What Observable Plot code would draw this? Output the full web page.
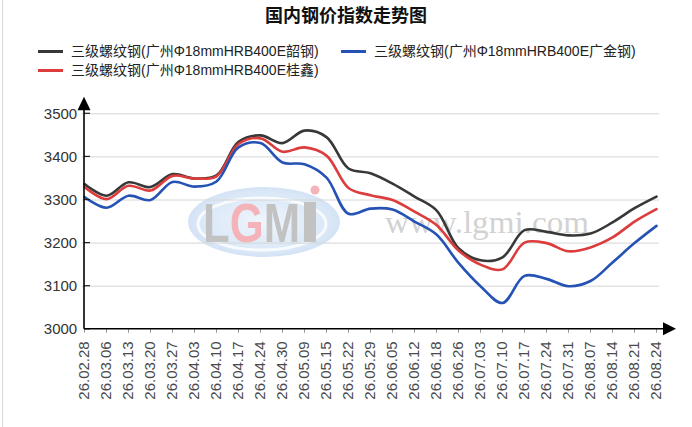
<!DOCTYPE html>
<html><head><meta charset="utf-8">
<script src="https://cdn.jsdelivr.net/npm/d3@7"></script>
<script src="https://cdn.jsdelivr.net/npm/@observablehq/plot@0.6"></script>
<style>
body{margin:0;background:#fff;}
#wrap{position:relative;width:692px;height:427px;overflow:hidden;background:#fff;font-family:"Liberation Sans","Noto Sans CJK SC",sans-serif;}
#border{position:absolute;left:2px;top:0;width:1px;height:427px;background:#d8d8d8;}
#title{position:absolute;left:0;width:692px;top:4px;line-height:20px;text-align:center;font-family:"Noto Sans CJK SC",sans-serif;font-weight:bold;font-size:18px;color:#111;}
.leg{position:absolute;height:18px;line-height:18px;font-size:14px;color:#222;white-space:nowrap;font-family:"Liberation Sans","Noto Sans CJK SC",sans-serif;}
.leg .sw{position:absolute;left:0;top:8px;width:25px;height:2.5px;}
.leg .tx{position:absolute;left:33px;top:0;}
#wm{position:absolute;left:0;top:0;z-index:0;}
#chart{position:absolute;left:0;top:0;z-index:1;}
</style></head>
<body>
<div id="wrap">
  <div id="border"></div>
  <svg id="wm" width="692" height="427">
    <defs>
      <radialGradient id="lg" cx="0.5" cy="0.5" r="0.6">
        <stop offset="0" stop-color="#edf4fc"/>
        <stop offset="0.7" stop-color="#d6e5f6"/>
        <stop offset="1" stop-color="#c6daf1"/>
      </radialGradient>
      <linearGradient id="lt" gradientUnits="userSpaceOnUse" x1="203" y1="0" x2="300" y2="0">
        <stop offset="0" stop-color="#c2c2c2"/>
        <stop offset="0.28" stop-color="#c2c2c2"/>
        <stop offset="0.28" stop-color="#f3b3b9"/>
        <stop offset="0.62" stop-color="#f3b3b9"/>
        <stop offset="0.62" stop-color="#c2c2c2"/>
        <stop offset="1" stop-color="#c2c2c2"/>
      </linearGradient>
    </defs>
    <ellipse cx="264" cy="222" rx="76" ry="35" fill="url(#lg)" opacity="0.9"/>
    <ellipse cx="262" cy="224" rx="64" ry="26" fill="none" stroke="#ffffff" stroke-width="3" opacity="0.8"/>
    <text x="203" y="242" font-family="Liberation Sans" font-weight="bold" font-size="56" fill="url(#lt)" textLength="97" lengthAdjust="spacingAndGlyphs">LGM</text>
    <rect x="304" y="202" width="12" height="40" fill="#c2c2c2"/>
    <circle cx="315" cy="190" r="4.5" fill="#f3b3b9"/>
    <text x="385" y="233" font-family="Liberation Serif" font-size="32" fill="#d2d2d2" textLength="204" lengthAdjust="spacingAndGlyphs">www.lgmi.com</text>
  </svg>
  <div id="chart"></div>
  <div id="title">国内钢价指数走势图</div>
  <div id="legend"></div>
</div>
<script>
const dates = ["26.02.28","26.03.06","26.03.13","26.03.20","26.03.27","26.04.03","26.04.10","26.04.17","26.04.24","26.04.30","26.05.09","26.05.15","26.05.22","26.05.29","26.06.05","26.06.12","26.06.18","26.06.26","26.07.03","26.07.10","26.07.17","26.07.24","26.07.31","26.08.07","26.08.14","26.08.21","26.08.24"];
const shaogang = [3337,3310,3341,3330,3360,3350,3357,3435,3450,3432,3461,3446,3373,3362,3338,3308,3276,3188,3160,3167,3230,3226,3218,3222,3248,3281,3308];
const guixin   = [3330,3302,3333,3322,3356,3350,3355,3430,3443,3412,3422,3403,3328,3311,3300,3273,3242,3183,3150,3139,3201,3200,3181,3190,3213,3250,3279];
const guangjin = [3307,3282,3310,3300,3342,3331,3343,3422,3432,3387,3383,3352,3268,3280,3278,3250,3220,3154,3100,3061,3124,3117,3100,3112,3155,3200,3240];
const seriesNames = ["三级螺纹钢(广州Φ18mmHRB400E韶钢)","三级螺纹钢(广州Φ18mmHRB400E桂鑫)","三级螺纹钢(广州Φ18mmHRB400E广金钢)"];
const seriesColors = ["#383838","#dc3c3c","#2552b5"];
const yTicks = [3000,3100,3200,3300,3400,3500];

const seriesValues = [shaogang, guixin, guangjin];
const rows = [];
seriesValues.forEach((vals, k) => vals.forEach((v, i) => rows.push({date: dates[i], value: v, series: seriesNames[k]})));

// legend (order: 韶钢, 广金钢 on row 1; 桂鑫 on row 2)
const legendLayout = [{k:0,left:38,top:42},{k:2,left:341,top:42},{k:1,left:38,top:61}];
const leg = document.getElementById("legend");
legendLayout.forEach(({k,left,top}) => {
  const d = document.createElement("div");
  d.className = "leg";
  d.style.left = left + "px"; d.style.top = top + "px";
  d.innerHTML = `<div class="sw" style="background:${seriesColors[k]}"></div><div class="tx">${seriesNames[k]}</div>`;
  leg.appendChild(d);
});

const chart = Plot.plot({
  width: 692, height: 427,
  marginLeft: 81.7, marginRight: 33, marginTop: 113.3, marginBottom: 98.2,
  style: {background: "transparent", fontFamily: "Liberation Sans, Arial, sans-serif", overflow: "visible"},
  x: {type: "point", domain: dates, padding: 0, label: null},
  y: {domain: [3000, 3500], label: null},
  color: {domain: seriesNames, range: seriesColors},
  marks: [
    Plot.gridY(yTicks.slice(1), {stroke: "#d6d6d6", strokeOpacity: 1, strokeWidth: 1}),
    Plot.axisY(yTicks, {tickSize: 0, tickPadding: 5, fontSize: 15, fill: "#333", label: null, tickFormat: d => String(d)}),
    Plot.axisX({tickSize: 4, tickPadding: 8, tickRotate: -90, fontSize: 15, fill: "#4a4a4a", stroke: "#999", label: null}),
    Plot.line(rows, {x: "date", y: "value", z: "series", stroke: "series", strokeWidth: 2.6, curve: "catmull-rom"})
  ]
});
document.getElementById("chart").appendChild(chart);

// axis lines with arrows, derived from scales
const xs = chart.scale("x"), ys = chart.scale("y");
const x0 = xs.apply(dates[0]), x1 = xs.apply(dates[dates.length - 1]);
const yb = ys.apply(yTicks[0]), yt = ys.apply(yTicks[yTicks.length - 1]);
const svg = d3.select(chart);
const g = svg.append("g");
g.selectAll("line.yt").data(yTicks).join("line")
  .attr("x1", x0).attr("x2", x0 + 6)
  .attr("y1", d => ys.apply(d)).attr("y2", d => ys.apply(d))
  .attr("stroke", "#222").attr("stroke-width", 1.2);
g.append("line").attr("x1", x0).attr("x2", x1 + 9).attr("y1", yb).attr("y2", yb).attr("stroke", "#000").attr("stroke-width", 1.6);
g.append("path").attr("d", `M${x1 + 7},${yb - 6.5}L${x1 + 20},${yb}L${x1 + 7},${yb + 6.5}Z`).attr("fill", "#000");
g.append("line").attr("x1", x0).attr("x2", x0).attr("y1", yb).attr("y2", yt - 5).attr("stroke", "#000").attr("stroke-width", 1.6);
g.append("path").attr("d", `M${x0 - 6.5},${yt - 3}L${x0},${yt - 16.5}L${x0 + 6.5},${yt - 3}Z`).attr("fill", "#000");
</script>
</body></html>
